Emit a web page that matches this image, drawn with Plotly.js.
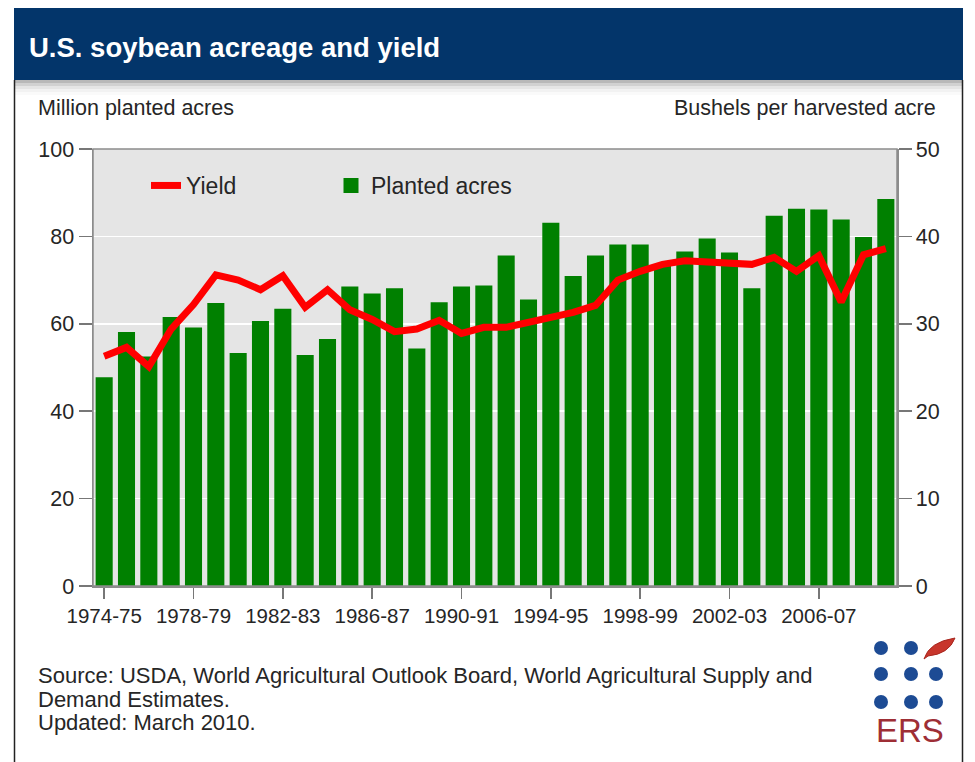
<!DOCTYPE html>
<html>
<head>
<meta charset="utf-8">
<script src="https://cdn.plot.ly/plotly-3.0.1.min.js"></script>
<style>
html,body{margin:0;padding:0;background:#fff;}
#chart{width:975px;height:762px;}
</style>
</head>
<body>
<div id="chart"></div>
<script>
// ---- data ----
const seasons = ["1974-75","1975-76","1976-77","1977-78","1978-79","1979-80","1980-81","1981-82","1982-83","1983-84",
  "1984-85","1985-86","1986-87","1987-88","1988-89","1989-90","1990-91","1991-92","1992-93","1993-94",
  "1994-95","1995-96","1996-97","1997-98","1998-99","1999-00","2000-01","2001-02","2002-03","2003-04",
  "2004-05","2005-06","2006-07","2007-08","2008-09","2009-10"];
// bars, left axis (million planted acres)
const plantedAcres = [47.4,57.8,52.2,61.2,58.8,64.4,53.0,60.3,63.1,52.5,
  56.2,68.2,66.6,67.8,54.0,64.6,68.2,68.4,75.3,65.2,
  82.8,70.6,75.3,77.8,77.8,73.2,76.2,79.2,76.0,67.8,
  84.4,86.0,85.8,83.5,79.5,88.2];
// line, right axis (bushels per harvested acre)
const yieldValues = [26.3,27.3,25.1,29.4,32.2,35.6,35.0,33.9,35.5,31.9,
  33.9,31.6,30.5,29.1,29.4,30.4,28.9,29.6,29.6,30.1,
  30.8,31.3,32.1,35.0,36.0,36.8,37.2,37.1,37.0,36.8,
  37.6,36.0,37.8,32.5,37.9,38.6];
const tickSeasons = ["1974-75","1978-79","1982-83","1986-87","1990-91","1994-95","1998-99","2002-03","2006-07"];
const leftTicks = [0,20,40,60,80,100];
const rightTicks = [0,10,20,30,40,50];

// ---- pixel -> paper helpers for decoration ----
const L = 93, R = 897, T = 149, B = 586;
const px = x => (x - L) / (R - L);
const py = y => (B - y) / (B - T);

const FONT = "Liberation Sans, Arial, sans-serif";
const TXT = "#262626";

const traces = [
  {
    type: "scatter", mode: "lines", name: "Yield",
    x: seasons, y: yieldValues, yaxis: "y2",
    line: {color: "#ff0000", width: 7},
    hoverinfo: "x+y"
  },
  {
    type: "bar", name: "Planted acres",
    x: seasons, y: plantedAcres, yaxis: "y",
    marker: {color: "#008000", line: {color: "#008000", width: 3}},
    width: 0.63,
    hoverinfo: "x+y"
  }
];

const shapes = [];
// title banner
shapes.push({type:"rect", xref:"paper", yref:"paper", x0:px(14), x1:px(963), y0:py(80), y1:py(8),
  fillcolor:"#03356a", line:{width:0}, layer:"below"});
// soft shadow beneath banner
const shadowCols = ["rgba(0,0,0,0.28)","rgba(0,0,0,0.18)","rgba(0,0,0,0.10)","rgba(0,0,0,0.05)","rgba(0,0,0,0.02)"];
shadowCols.forEach((c,i)=>{
  shapes.push({type:"rect", xref:"paper", yref:"paper", x0:px(15), x1:px(962), y0:py(83+i*3), y1:py(80+i*3),
    fillcolor:c, line:{width:0}, layer:"below"});
});
// outer frame sides
shapes.push({type:"line", xref:"paper", yref:"paper", x0:px(14.5), x1:px(14.5), y0:py(80), y1:py(770), line:{color:"#222", width:1.5}});
shapes.push({type:"line", xref:"paper", yref:"paper", x0:px(962.5), x1:px(962.5), y0:py(80), y1:py(770), line:{color:"#222", width:1.5}});
// plot frame
shapes.push({type:"rect", xref:"paper", yref:"paper", x0:0, x1:1, y0:0, y1:1, line:{color:"#8c8c8c", width:1.5}});
// ERS logo dots
const dotX = [881, 911, 936], dotY = [648, 674, 702];
dotY.forEach((cy, r) => {
  dotX.forEach((cx, c) => {
    if (r === 0 && c === 2) return;
    shapes.push({type:"circle", xref:"paper", yref:"paper",
      x0:px(cx-7), x1:px(cx+7), y0:py(cy+7), y1:py(cy-7),
      fillcolor:"#1d4b94", line:{width:0}});
  });
});
// leaf
const leafPts = [[924,659],[929,642],[955,638],[949,654],[928,656]];
const P = p => px(p[0]) + "," + py(p[1]);
shapes.push({type:"path", xref:"paper", yref:"paper",
  path: "M " + P(leafPts[0]) + " Q " + P(leafPts[1]) + " " + P(leafPts[2]) + " Q " + P(leafPts[3]) + " " + P(leafPts[4]) + " Z",
  fillcolor:"#c8362c", line:{color:"#a82820", width:1}});

const ann = (text, x, y, xa, size, color, bold) => ({
  text: bold ? "<b>" + text + "</b>" : text, x: px(x), y: py(y), xref: "paper", yref: "paper",
  xanchor: xa, yanchor: "middle", showarrow: false, font: {family: FONT, size: size, color: color}
});
const annotations = [
  ann("U.S. soybean acreage and yield", 27, 47, "left", 27.5, "#ffffff", true),
  ann("Million planted acres", 36, 108, "left", 21.5, TXT),
  ann("Bushels per harvested acre", 938, 108, "right", 21.5, TXT),
  ann("Source: USDA, World Agricultural Outlook Board, World Agricultural Supply and", 36, 675, "left", 22, TXT),
  ann("Demand Estimates.", 36, 699, "left", 22, TXT),
  ann("Updated: March 2010.", 36, 722, "left", 22, TXT),
  ann("ERS", 910, 730, "center", 33, "#9e2e35")
];

const layout = {
  width: 975, height: 762,
  margin: {l: L, r: 975 - R, t: T, b: 762 - B, pad: 0},
  paper_bgcolor: "#ffffff",
  plot_bgcolor: "#e5e5e5",
  font: {family: FONT, size: 20, color: TXT},
  showlegend: true,
  legend: {orientation: "h", x: px(146), y: py(164), xanchor: "left", yanchor: "top",
    bgcolor: "rgba(0,0,0,0)", font: {family: FONT, size: 23, color: TXT},
    entrywidth: 140, entrywidthmode: "pixels", itemwidth: 30},
  xaxis: {
    type: "category", range: [-0.5, seasons.length - 0.5],
    tickmode: "array", tickvals: tickSeasons, ticktext: tickSeasons,
    ticks: "outside", ticklen: 11, tickcolor: "#777", tickwidth: 1.5,
    showline: true, linecolor: "#8c8c8c", linewidth: 1.5,
    showgrid: false, zeroline: false,
    tickfont: {family: FONT, size: 20.5, color: TXT},
    fixedrange: true
  },
  yaxis: {
    range: [0, 100], tickmode: "array", tickvals: leftTicks,
    ticks: "outside", ticklen: 13, tickcolor: "#777", tickwidth: 1.5,
    showline: true, linecolor: "#8c8c8c", linewidth: 1.5,
    showgrid: true, gridcolor: "#ffffff", gridwidth: 1.5, zeroline: false,
    tickfont: {family: FONT, size: 21.5, color: TXT},
    fixedrange: true
  },
  yaxis2: {
    range: [0, 50], overlaying: "y", side: "right",
    tickmode: "array", tickvals: rightTicks,
    ticks: "outside", ticklen: 13, tickcolor: "#777", tickwidth: 1.5,
    showline: true, linecolor: "#8c8c8c", linewidth: 1.5,
    showgrid: false, zeroline: false,
    tickfont: {family: FONT, size: 21.5, color: TXT},
    fixedrange: true
  },
  shapes: shapes,
  annotations: annotations
};

Plotly.newPlot("chart", traces, layout, {displayModeBar: false, staticPlot: true});
</script>
</body>
</html>
